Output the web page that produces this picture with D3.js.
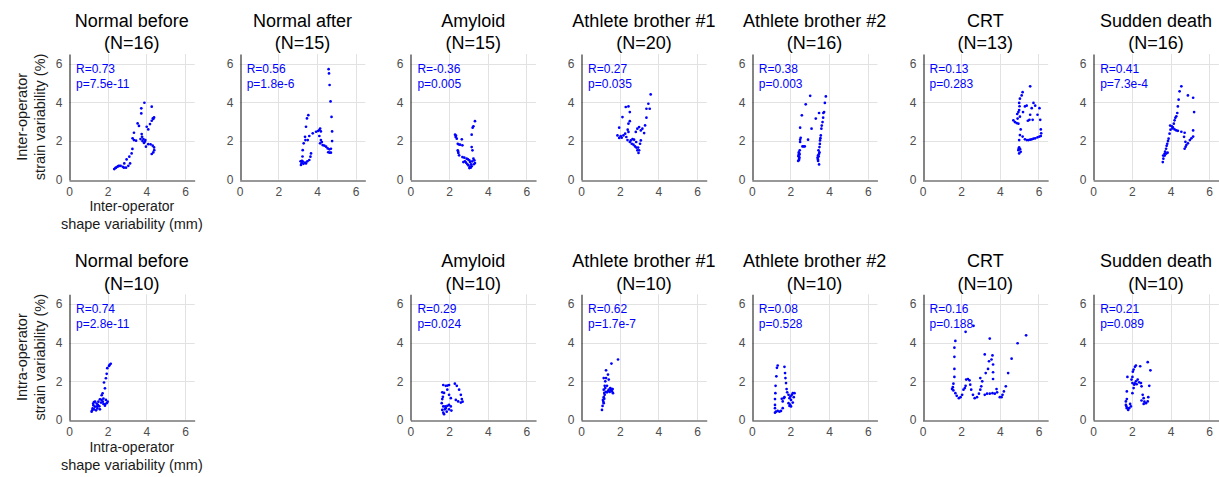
<!DOCTYPE html>
<html><head><meta charset="utf-8">
<script src="https://cdn.jsdelivr.net/npm/d3@7"></script>
<style>
html,body{margin:0;padding:0;background:#fff;}
svg{display:block;font-family:"Liberation Sans",Arial,Helvetica,sans-serif;}
</style></head>
<body><svg id="chart" width="1219" height="477"></svg>
<script>
// ---------- data ----------
const groups = ["Normal before","Normal after","Amyloid","Athlete brother #1","Athlete brother #2","CRT","Sudden death"];
const interN = [16,15,15,20,16,13,16];
const intraN = [10,null,10,10,10,10,10];
const interR = ["0.73","0.56","-0.36","0.27","0.38","0.13","0.41"];
const interP = ["7.5e-11","1.8e-6","0.005","0.035","0.003","0.283","7.3e-4"];
const intraR = ["0.74",null,"0.29","0.62","0.08","0.16","0.21"];
const intraP = ["2.8e-11",null,"0.024","1.7e-7","0.528","0.188","0.089"];
const tickValues = [0,2,4,6];
const rowYLabels = [["Inter-operator","strain variability (%)"],["Intra-operator","strain variability (%)"]];
const rowXLabels = [["Inter-operator","shape variability (mm)"],["Intra-operator","shape variability (mm)"]];

const interNormalBefore = [[2.34,0.55],[2.43,0.62],[2.50,0.67],[2.59,0.72],[2.67,0.72],[2.78,0.67],[2.84,0.62],[2.95,0.62],[3.07,0.72],[3.16,0.84],[2.40,0.60],[2.55,0.70],[2.86,0.84],[2.98,1.05],[3.12,1.19],[3.24,1.36],[3.28,1.59],[3.29,2.14],[3.36,2.05],[3.47,2.02],[3.36,2.43],[3.55,2.91],[3.62,2.78],[3.74,3.69],[3.74,3.43],[3.90,3.98],[4.28,3.78],[3.76,2.36],[3.78,2.22],[3.85,2.10],[3.93,1.97],[3.80,2.00],[3.88,1.90],[4.02,2.74],[4.10,2.60],[4.19,2.88],[4.28,3.05],[4.36,3.14],[4.40,3.22],[4.34,3.18],[3.98,1.71],[4.10,1.84],[4.22,1.83],[4.33,1.76],[4.40,1.67],[4.41,1.53],[4.36,1.41],[4.28,1.33],[3.95,2.05],[3.70,2.10]];
const interNormalAfter = [[4.60,5.72],[4.62,5.50],[4.65,4.90],[4.70,4.05],[4.75,3.25],[4.78,2.50],[4.78,2.00],[4.72,1.60],[4.65,1.40],[4.58,1.42],[3.17,0.76],[3.20,0.85],[3.26,0.93],[3.22,0.98],[3.30,0.82],[3.38,0.88],[3.43,0.84],[3.50,0.95],[3.60,1.02],[3.66,1.19],[3.69,1.36],[3.15,0.95],[3.25,1.20],[3.26,1.53],[3.31,1.88],[3.38,2.22],[3.43,2.74],[3.48,3.17],[3.55,3.34],[3.40,2.05],[3.52,2.05],[3.60,2.26],[3.78,2.40],[3.95,2.48],[4.05,2.52],[4.12,2.57],[4.16,2.65],[4.20,2.50],[4.12,2.26],[4.20,2.05],[4.16,1.88],[4.25,1.95],[4.29,1.79],[4.38,1.76],[4.47,1.71],[4.55,1.62],[4.64,1.57],[4.72,1.40]];
const interAmyloid = [[2.31,2.33],[2.34,2.21],[2.40,2.12],[2.36,2.28],[2.66,2.09],[2.45,1.86],[2.57,1.81],[2.69,1.78],[2.50,1.82],[2.45,1.52],[2.48,1.38],[2.52,1.26],[2.47,1.45],[2.69,1.17],[2.79,1.14],[2.91,1.09],[2.98,1.05],[2.74,0.91],[2.82,0.95],[3.09,0.91],[3.14,0.79],[3.17,0.69],[3.09,0.66],[3.00,0.74],[2.95,0.80],[3.05,0.60],[3.12,0.62],[3.26,1.09],[3.31,1.00],[3.34,0.86],[3.28,0.80],[3.20,0.95],[3.21,1.52],[3.17,1.69],[3.17,2.33],[3.22,2.69],[3.26,2.76],[3.34,3.03],[3.05,1.00],[2.88,0.88]];
const interAthlete1 = [[3.60,4.41],[3.48,3.93],[3.38,3.67],[3.55,3.67],[3.38,3.21],[3.31,2.81],[3.17,2.64],[3.09,2.55],[3.26,2.41],[2.31,3.76],[2.45,3.79],[2.52,3.50],[2.14,3.24],[2.52,3.03],[2.45,2.90],[1.97,2.69],[2.41,2.59],[2.45,2.47],[2.91,2.64],[3.00,2.72],[2.83,2.47],[1.88,2.29],[1.97,2.16],[2.10,2.17],[2.19,2.29],[2.28,2.38],[2.34,2.21],[2.05,2.25],[2.57,2.03],[2.66,2.10],[2.74,2.07],[2.52,1.95],[2.62,1.86],[2.71,1.81],[2.79,1.72],[2.86,1.66],[2.95,1.66],[3.00,1.52],[2.97,1.38],[2.91,1.52],[3.05,1.86],[3.09,2.03],[2.85,1.95],[2.40,2.05]];
const interAthlete2 = [[2.40,0.97],[2.45,1.09],[2.41,1.21],[2.47,1.31],[2.43,1.41],[2.48,1.52],[2.44,1.02],[2.46,1.15],[2.42,1.28],[2.45,1.36],[2.50,1.95],[2.50,2.07],[2.53,2.17],[2.50,2.69],[2.59,3.33],[2.79,3.90],[3.02,4.34],[2.62,1.72],[2.74,1.72],[2.68,1.72],[2.91,2.07],[3.09,2.64],[3.31,3.16],[3.48,0.79],[3.43,0.97],[3.40,1.14],[3.43,1.26],[3.48,1.34],[3.45,1.52],[3.50,1.69],[3.53,2.03],[3.57,2.29],[3.60,2.64],[3.66,2.98],[3.69,3.21],[3.74,3.50],[3.70,3.45],[3.78,3.97],[3.83,4.31],[3.48,3.45],[3.42,1.05],[3.46,1.20],[3.50,1.42],[3.52,1.85],[3.55,2.15],[3.62,2.80]];
const interCRT = [[5.57,4.83],[5.18,4.53],[5.13,4.36],[5.04,4.19],[5.00,3.97],[5.02,3.80],[4.70,3.07],[4.78,2.98],[4.87,2.93],[4.96,2.90],[4.92,3.16],[4.96,3.50],[5.00,3.60],[5.04,3.26],[4.90,3.40],[5.08,2.60],[5.04,2.31],[5.00,2.05],[5.00,1.67],[4.96,1.53],[5.00,1.36],[5.08,1.44],[5.05,1.58],[4.98,1.62],[5.30,3.79],[5.39,3.83],[5.57,3.36],[5.53,3.10],[5.70,3.10],[5.74,3.97],[5.83,3.83],[5.65,3.70],[5.95,3.36],[6.05,3.70],[6.09,3.10],[6.12,2.60],[6.14,2.40],[5.45,3.05],[5.20,3.50],[5.18,2.23],[5.30,2.09],[5.40,2.05],[5.48,2.05],[5.57,2.07],[5.65,2.09],[5.74,2.12],[5.83,2.14],[5.95,2.19],[6.05,2.23],[6.12,2.26]];
const interSudden = [[4.56,4.83],[4.47,4.57],[4.42,4.14],[4.90,4.36],[5.17,4.24],[5.22,3.50],[5.17,2.55],[3.60,0.91],[3.63,1.09],[3.62,1.25],[3.69,1.34],[3.72,1.45],[3.77,1.60],[3.80,1.75],[3.83,1.86],[3.87,2.00],[3.90,2.12],[3.95,2.38],[4.00,2.59],[4.07,2.76],[4.17,2.90],[4.21,3.07],[4.30,3.28],[4.35,3.45],[4.38,3.79],[4.25,3.20],[3.70,1.25],[3.78,1.35],[3.85,1.40],[4.12,2.71],[4.21,2.60],[4.30,2.55],[4.38,2.53],[4.56,2.48],[4.73,2.43],[4.70,2.22],[4.77,1.96],[4.82,1.79],[4.73,1.60],[4.78,1.70],[4.90,1.88],[5.00,2.05],[5.08,2.14],[5.17,2.23],[4.10,2.65],[3.98,2.80]];

const intraNormalBefore = [[2.16,2.91],[2.07,2.80],[1.98,2.68],[2.10,2.85],[1.95,2.39],[1.91,2.16],[1.81,1.94],[1.86,1.64],[1.74,1.38],[1.69,1.28],[1.60,1.07],[1.78,1.11],[1.91,1.04],[1.95,0.87],[1.86,0.81],[2.00,0.95],[1.17,0.43],[1.22,0.60],[1.26,0.76],[1.29,0.93],[1.34,0.69],[1.43,0.85],[1.47,0.60],[1.57,0.71],[1.66,0.90],[1.60,0.55],[1.78,0.83],[1.86,0.74],[1.52,0.95],[1.40,0.50],[1.30,0.55],[1.69,1.04],[1.20,0.50],[1.35,0.95],[1.50,0.78],[1.75,0.95],[1.25,0.85],[1.45,0.70]];
const intraAmyloid = [[1.70,1.81],[1.83,1.77],[1.92,1.78],[2.00,1.81],[1.65,1.43],[1.74,1.40],[1.91,1.57],[2.00,1.30],[2.09,1.13],[2.30,1.88],[2.40,1.77],[2.52,1.57],[2.61,1.30],[2.66,1.08],[2.61,0.90],[2.47,0.96],[2.35,1.04],[1.65,1.08],[1.62,0.87],[1.70,0.70],[1.65,0.52],[1.70,0.38],[1.74,0.30],[1.83,0.61],[1.91,0.73],[2.00,0.78],[2.09,0.70],[2.12,0.49],[2.00,0.55],[1.88,0.43],[1.78,0.55],[1.80,0.70],[2.70,0.95],[1.68,1.20]];
const intraAthlete1 = [[1.91,3.13],[1.57,2.92],[1.29,2.57],[1.39,2.35],[1.17,2.17],[1.29,2.17],[1.43,2.09],[1.25,2.00],[1.22,1.77],[1.34,1.77],[1.25,1.65],[1.17,1.57],[1.51,1.65],[1.63,1.60],[1.60,1.48],[1.65,1.39],[1.43,1.57],[1.34,1.43],[1.22,1.30],[1.17,1.18],[1.13,1.04],[1.17,0.87],[1.11,0.73],[1.08,0.52],[1.28,1.45],[1.40,1.50],[1.55,1.55],[1.20,1.40],[1.15,0.95],[1.20,1.10],[1.48,1.45],[1.60,1.60]];
const intraAthlete2 = [[1.34,2.82],[1.30,2.70],[1.27,2.26],[1.23,1.77],[1.22,1.39],[1.20,1.08],[1.20,0.78],[1.20,0.61],[1.20,0.38],[1.25,0.43],[1.34,0.47],[1.43,0.43],[1.51,0.47],[1.60,0.61],[1.60,0.96],[1.65,1.13],[1.69,1.18],[1.69,2.75],[1.72,2.43],[1.74,2.17],[1.77,1.91],[1.83,1.43],[1.90,1.30],[2.00,1.22],[2.07,1.30],[2.12,1.39],[2.21,1.39],[1.95,1.13],[1.90,0.87],[1.95,0.73],[2.03,0.70],[2.12,0.90],[2.03,1.04],[2.17,1.18],[1.55,1.10],[1.80,1.60],[1.98,0.80]];
const intraCRT = [[1.70,4.09],[1.65,3.74],[1.65,3.27],[1.65,2.64],[1.65,2.23],[1.60,1.88],[1.57,1.70],[1.53,1.60],[1.60,1.53],[1.70,1.39],[1.77,1.25],[1.88,1.13],[1.97,1.18],[2.05,1.30],[2.12,1.57],[2.19,1.65],[2.23,1.77],[2.26,2.09],[2.35,2.12],[2.43,2.05],[2.47,1.83],[2.52,1.57],[2.61,1.30],[2.70,1.13],[2.82,1.18],[2.92,1.36],[2.99,1.57],[3.04,1.74],[2.99,2.17],[3.09,2.00],[2.23,4.56],[2.64,4.87],[3.22,3.39],[3.27,2.43],[3.39,2.64],[3.44,3.04],[3.48,4.21],[3.57,3.13],[3.62,3.34],[3.65,2.87],[3.65,2.47],[3.65,2.12],[3.22,1.30],[3.34,1.36],[3.48,1.36],[3.62,1.39],[3.74,1.36],[3.86,1.43],[3.83,1.60],[4.00,1.18],[4.09,1.18],[4.14,1.30],[4.21,1.48],[4.31,1.74],[4.43,2.43],[4.61,3.17],[4.92,3.97],[5.36,4.38]];
const intraSudden = [[1.69,0.78],[1.69,0.96],[1.74,1.08],[1.74,1.48],[1.77,2.23],[1.74,0.61],[1.81,0.52],[1.86,0.61],[1.95,0.70],[1.91,0.83],[1.72,0.70],[2.03,1.39],[2.09,1.65],[2.03,1.91],[1.98,2.09],[2.03,2.23],[2.09,2.61],[2.16,2.75],[2.21,2.82],[2.05,2.50],[2.12,1.83],[2.21,2.00],[2.30,2.09],[2.38,1.95],[2.47,1.91],[2.43,2.78],[2.50,1.74],[2.56,1.30],[2.61,1.13],[2.50,1.01],[2.61,0.83],[2.73,0.87],[2.82,0.96],[2.82,2.99],[2.96,2.57],[2.90,1.77],[2.85,1.18],[2.15,1.90],[2.25,1.85],[2.65,0.95]];

const interPoints = [interNormalBefore,interNormalAfter,interAmyloid,interAthlete1,interAthlete2,interCRT,interSudden];
const intraPoints = [intraNormalBefore,null,intraAmyloid,intraAthlete1,intraAthlete2,intraCRT,intraSudden];

// ---------- layout ----------
const svg = d3.select("#chart");
const unit = 19.33, size = 6.5*unit;
const colX = i => 69 + i*170.7;
const rowY0 = [179.7, 420];
const tickColor = "#4d4d4d";

function panel(row, col, pts, N, R, P){
  const x0 = colX(col), yb = rowY0[row], yt = yb - size;
  const x = d3.scaleLinear().domain([0,6.5]).range([x0, x0+size]);
  const y = d3.scaleLinear().domain([0,6.5]).range([yb, yt]);
  const g = svg.append("g");
  // grid
  g.selectAll(".gx").data([2,4,6]).join("line")
    .attr("x1",d=>Math.round(x(d))+0.5).attr("x2",d=>Math.round(x(d))+0.5)
    .attr("y1",yt).attr("y2",yb).attr("stroke","#e2e2e2").attr("stroke-width",1);
  g.selectAll(".gy").data([2,4,6]).join("line")
    .attr("y1",d=>Math.round(y(d))+0.5).attr("y2",d=>Math.round(y(d))+0.5)
    .attr("x1",x0).attr("x2",x0+size).attr("stroke","#e2e2e2").attr("stroke-width",1);
  // axes
  const xa = g.append("g").attr("transform",`translate(0,${Math.round(yb)+0.5})`)
    .call(d3.axisBottom(x).tickValues(tickValues).tickSize(0).tickPadding(7).tickFormat(d3.format("d")));
  const ya = g.append("g").attr("transform",`translate(${Math.round(x0)+0.5},0)`)
    .call(d3.axisLeft(y).tickValues(tickValues).tickSize(0).tickPadding(7).tickFormat(d3.format("d")));
  [xa,ya].forEach(a=>{
    a.select(".domain").attr("stroke","#333").attr("stroke-width",1.2);
    a.selectAll("text").attr("fill",tickColor).style("font-size","12px").style("font-family","'Liberation Sans',Arial,sans-serif");
  });
  // points
  g.selectAll("circle").data(pts).join("circle")
    .attr("cx",d=>x(d[0])).attr("cy",d=>y(d[1])).attr("r",1.35).attr("fill","#0000ff");
  // stats text
  g.append("text").attr("x",x0+7).attr("y",yt+18.5).attr("fill","#0000ff")
    .style("font-size","12px").text("R="+R);
  g.append("text").attr("x",x0+7).attr("y",yt+34).attr("fill","#0000ff")
    .style("font-size","12px").text("p="+P);
  // title
  const cx = x0 + size/2;
  g.append("text").attr("x",cx).attr("y",yb-153).attr("text-anchor","middle")
    .style("font-size","18px").attr("fill","#000").text(groups[col]);
  g.append("text").attr("x",cx).attr("y",yb-130.3).attr("text-anchor","middle")
    .style("font-size","18px").attr("fill","#000").text("(N="+N+")");
  // axis labels on first column
  if(col===0){
    g.append("text").attr("x",cx).attr("y",yb+31.6).attr("text-anchor","middle")
      .style("font-size","14px").attr("fill","#1a1a1a").text(rowXLabels[row][0]);
    g.append("text").attr("x",cx).attr("y",yb+49.6).attr("text-anchor","middle")
      .style("font-size","14.5px").attr("fill","#1a1a1a").text(rowXLabels[row][1]);
    const cy = (yb+yt)/2;
    g.append("text").attr("transform",`translate(26.5,${cy}) rotate(-90)`).attr("text-anchor","middle")
      .style("font-size","14.5px").attr("fill","#1a1a1a").text(rowYLabels[row][0]);
    g.append("text").attr("transform",`translate(45,${cy}) rotate(-90)`).attr("text-anchor","middle")
      .style("font-size","14.5px").attr("fill","#1a1a1a").text(rowYLabels[row][1]);
  }
}

groups.forEach((gname,i)=>{
  panel(0,i,interPoints[i],interN[i],interR[i],interP[i]);
  if(intraPoints[i]) panel(1,i,intraPoints[i],intraN[i],intraR[i],intraP[i]);
});
</script></body></html>
